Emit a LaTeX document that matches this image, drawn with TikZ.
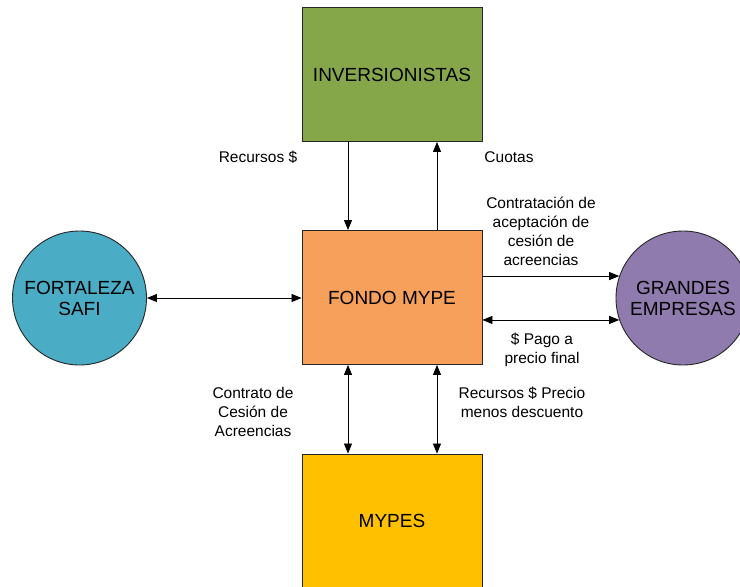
\documentclass[tikz,border=0pt]{standalone}
\usepackage{fontspec}
\setmainfont{Liberation Sans}
\usetikzlibrary{arrows.meta,calc}
\definecolor{invgreen}{HTML}{86A64A}
\definecolor{fondoorange}{HTML}{F6A05C}
\definecolor{mypesyellow}{HTML}{FFC000}
\definecolor{fortteal}{HTML}{4BACC6}
\definecolor{granpurple}{HTML}{8F7BAE}
\begin{document}
\begin{tikzpicture}[x=1pt,y=-1pt,
  box/.style={draw=black!85,line width=0.9pt,minimum width=180pt,minimum height=134pt,inner sep=0pt,font=\fontsize{19}{20}\selectfont},
  circ/.style={draw=black!85,line width=0.9pt,circle,minimum size=134pt,inner sep=0pt,align=center,font=\fontsize{19}{21}\selectfont},
  lbl/.style={align=center,inner sep=0pt,font=\fontsize{15.5}{19}\selectfont},
  conn/.style={line width=0.8pt,-{Triangle[length=10pt,width=8pt]}},
  conn2/.style={line width=0.8pt,{Triangle[length=10pt,width=8pt]}-{Triangle[length=10pt,width=8pt]}}]
\useasboundingbox[fill=white] (0,0) rectangle (740,587);
\node[box,fill=invgreen] (inv) at (392,74.5) {INVERSIONISTAS};
\node[box,fill=fondoorange] (fondo) at (392,297.5) {FONDO MYPE};
\node[box,fill=mypesyellow] (mypes) at (392,521) {MYPES};
\node[circ,fill=fortteal] (fort) at (79.5,298) {FORTALEZA\\SAFI};
\node[circ,fill=granpurple] (gr) at (683,298) {GRANDES\\EMPRESAS};
% connectors
\draw[conn] ([xshift=-44pt]inv.south) -- ([xshift=-44pt]fondo.north);
\draw[conn] ([xshift=45pt]fondo.north) -- ([xshift=45pt]inv.south);
\draw[conn2] (fort.east) -- (fort.east -| fondo.west);
\draw[conn] (fondo.east |- gr.161.5) -- (gr.161.5);
\draw[conn2] (fondo.east |- gr.199.5) -- (gr.199.5);
\draw[conn2] ([xshift=-44pt]fondo.south) -- ([xshift=-44pt]mypes.north);
\draw[conn2] ([xshift=45pt]fondo.south) -- ([xshift=45pt]mypes.north);
% labels
\node[lbl] (l1) at (258,157) {Recursos \$};
\node[lbl] (l2) at (509,157) {Cuotas};
\node[lbl] (l3) at (541,231) {Contratación de\\aceptación de\\cesión de\\acreencias};
\node[lbl] (l4) at (542,350) {\$ Pago a\\precio final};
\node[lbl] (l5) at (253,412) {Contrato de\\Cesión de\\Acreencias};
\node[lbl] (l6) at (522,402) {Recursos \$ Precio\\menos descuento};
\end{tikzpicture}
\end{document}
